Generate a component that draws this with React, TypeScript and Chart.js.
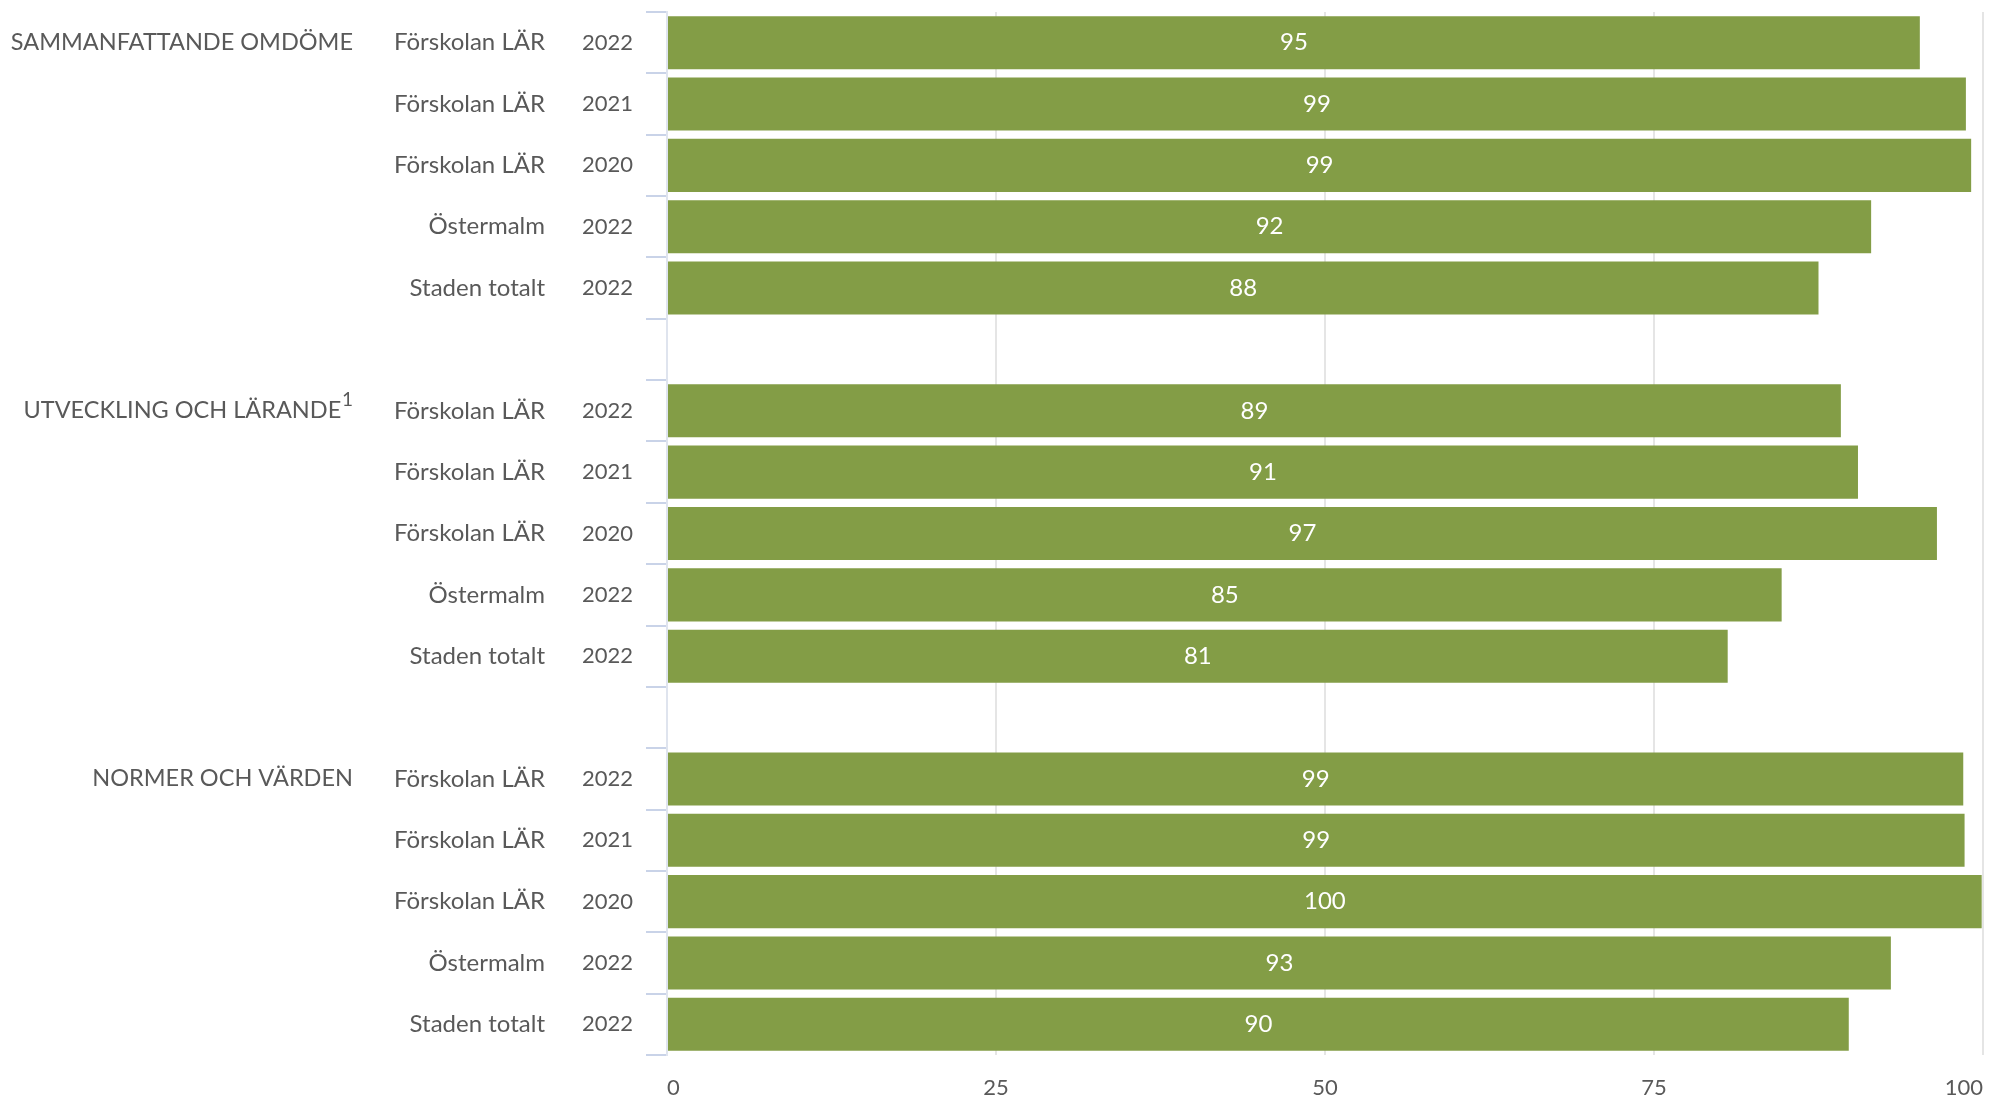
import React, { useEffect, useRef } from "react";
import { Chart, registerables } from "chart.js";

Chart.register(...registerables);

const groupLabels = [
  "SAMMANFATTANDE OMDÖME", "", "", "", "", "",
  "UTVECKLING OCH LÄRANDE", "", "", "", "", "",
  "NORMER OCH VÄRDEN", "", "", "", "",
];
const groupFootnotes = ["", "", "", "", "", "", "1", "", "", "", "", "", "", "", "", "", ""];
const nameLabels = [
  "Förskolan LÄR", "Förskolan LÄR", "Förskolan LÄR", "Östermalm", "Staden totalt", "",
  "Förskolan LÄR", "Förskolan LÄR", "Förskolan LÄR", "Östermalm", "Staden totalt", "",
  "Förskolan LÄR", "Förskolan LÄR", "Förskolan LÄR", "Östermalm", "Staden totalt",
];
const yearLabels = [
  "2022", "2021", "2020", "2022", "2022", "",
  "2022", "2021", "2020", "2022", "2022", "",
  "2022", "2021", "2020", "2022", "2022",
];
const values: (number | null)[] = [
  95.2, 98.7, 99.1, 91.5, 87.5, null,
  89.2, 90.5, 96.5, 84.7, 80.6, null,
  98.5, 98.6, 99.9, 93.0, 89.8,
];
const xTicks = [0, 25, 50, 75, 100];

const FONT = "Lato, 'Open Sans', sans-serif";
const TEXT = "#595959";
const BAR = "#839d46";

const valueLabelPlugin = {
  id: "valueLabels",
  afterDatasetsDraw(chart: any) {
    const ctx = chart.ctx;
    const meta = chart.getDatasetMeta(0);
    meta.data.forEach((bar: any, i: number) => {
      const v = values[i];
      if (v == null) return;
      const { x, y, base } = bar.getProps(["x", "y", "base"], true);
      ctx.save();
      ctx.fillStyle = "#ffffff";
      ctx.font = `24px ${FONT}`;
      ctx.textAlign = "center";
      ctx.textBaseline = "middle";
      ctx.fillText(String(Math.round(v)), (x + base) / 2, y);
      ctx.restore();
    });
  },
};

const footnotePlugin = {
  id: "footnotes",
  afterDraw(chart: any) {
    const s = chart.scales.yGroup;
    if (!s) return;
    const ctx = chart.ctx;
    groupFootnotes.forEach((f, i) => {
      if (!f) return;
      const y = s.getPixelForValue(i);
      ctx.save();
      ctx.fillStyle = TEXT;
      ctx.font = `19px ${FONT}`;
      ctx.textAlign = "right";
      ctx.textBaseline = "middle";
      ctx.fillText(f, s.right - 10, y - 11);
      ctx.restore();
    });
  },
};

export default function App() {
  const ref = useRef<HTMLCanvasElement | null>(null);
  useEffect(() => {
    if (!ref.current) return;
    const font = { family: FONT, size: 22 };
    const nameFont = { family: FONT, size: 24 };
    const groupFont = { family: FONT, size: 23.5 };
    const chart = new Chart(ref.current, {
      type: "bar",
      data: {
        labels: yearLabels,
        datasets: [
          {
            data: values,
            backgroundColor: BAR,
            borderWidth: 0,
            categoryPercentage: 1,
            barPercentage: 0.865,
          },
        ],
      },
      options: {
        indexAxis: "y",
        animation: false,
        responsive: false,
        layout: { padding: { top: 12, right: 17, left: 0, bottom: 0 } },
        plugins: { legend: { display: false }, tooltip: { enabled: false } },
        scales: {
          x: {
            type: "linear",
            min: 0,
            max: 100,
            afterBuildTicks: (s: any) => {
              s.ticks = xTicks.map((v) => ({ value: v }));
            },
            ticks: { align: "inner", padding: 20, color: TEXT, font },
            grid: { color: "#e5e5e5", lineWidth: 2, drawTicks: false },
            border: { display: false },
            afterFit: (s: any) => {
              s.height = 44;
              s.paddingLeft = 0;
              s.paddingRight = 0;
            },
          },
          y: {
            type: "category",
            position: "left",
            weight: 0,
            offset: true,
            labels: yearLabels,
            grid: {
              display: true,
              offset: true,
              drawOnChartArea: false,
              tickLength: 21,
              color: "#c9d3e8",
              lineWidth: 2,
            },
            border: { display: true, color: "#dfe4ee", width: 2 },
            ticks: { padding: 13, color: TEXT, font, autoSkip: false },
            afterFit: (s: any) => {
              s.width = 112;
              s.paddingTop = 0;
              s.paddingBottom = 0;
            },
          },
          yName: {
            type: "category",
            position: "left",
            weight: 1,
            offset: true,
            labels: nameLabels,
            grid: { display: false, drawOnChartArea: false, drawTicks: false },
            border: { display: false },
            ticks: { padding: 10, color: TEXT, font: nameFont, autoSkip: false },
            afterFit: (s: any) => {
              s.width = 192;
              s.paddingTop = 0;
              s.paddingBottom = 0;
            },
          },
          yGroup: {
            type: "category",
            position: "left",
            weight: 2,
            offset: true,
            labels: groupLabels,
            grid: { display: false, drawOnChartArea: false, drawTicks: false },
            border: { display: false },
            ticks: {
              padding: 10,
              color: TEXT,
              font: groupFont,
              autoSkip: false,
              callback: (_v: any, i: number) =>
                groupLabels[i] + (groupFootnotes[i] ? "\u2002" : ""),
            },
            afterFit: (s: any) => {
              s.width = 363;
              s.paddingTop = 0;
              s.paddingBottom = 0;
            },
          },
        },
      } as any,
      plugins: [valueLabelPlugin, footnotePlugin],
    });
    return () => chart.destroy();
  }, []);
  return (
    <div style={{ position: "fixed", left: 0, top: 0, width: 2000, height: 1099, background: "#fff" }}>
      <canvas ref={ref} width={2000} height={1099} style={{ display: "block" }} />
    </div>
  );
}
